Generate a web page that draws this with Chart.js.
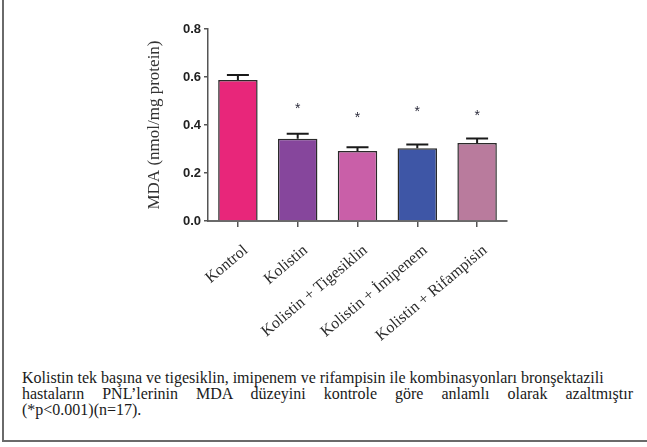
<!DOCTYPE html>
<html>
<head>
<meta charset="utf-8">
<script src="https://cdn.jsdelivr.net/npm/chart.js@4/dist/chart.umd.min.js"></script>
<style>
  html, body { margin: 0; padding: 0; background: #fff; }
  body { width: 647px; height: 447px; position: relative; overflow: hidden; }
  #frame { position: absolute; left: 2px; top: 0; width: 645px; height: 442px;
           border-left: 2px solid #6a6a6a; border-bottom: 2px solid #6a6a6a; box-sizing: border-box; }
  #wrap { position: absolute; left: 0; top: 0; width: 647px; height: 360px; }
  #caption { position: absolute; left: 22px; top: 370px; width: 611px;
             font-family: "Liberation Serif", "Times New Roman", serif; font-size: 16px;
             line-height: 16px; color: #1a1a1a; }
  #caption div { white-space: nowrap; }
  #caption .j { text-align: justify; text-align-last: justify; white-space: normal; }
</style>
</head>
<body>
<div id="frame"></div>
<div id="wrap"><canvas id="c" width="647" height="360"></canvas></div>
<div id="caption">
  <div>Kolistin tek başına ve tigesiklin, imipenem ve rifampisin ile kombinasyonları bronşektazili</div>
  <div class="j">hastaların PNL’lerinin MDA düzeyini kontrole göre anlamlı olarak azaltmıştır</div>
  <div>(*p&lt;0.001)(n=17).</div>
</div>
<script>
const categories = ["Kontrol", "Kolistin", "Kolistin + Tigesiklin", "Kolistin + İmipenem", "Kolistin + Rifampisin"];
const means = [0.587, 0.343, 0.292, 0.303, 0.325];
const sems = [0.021, 0.021, 0.015, 0.016, 0.019];
const starLevels = [null, 0.48, 0.44, 0.465, 0.45];
const barColors = ["#e8267a", "#86469c", "#c95fa8", "#3e56a6", "#b97b9d"];
const yTicks = [0, 0.2, 0.4, 0.6, 0.8];

const errorAndStars = {
  id: 'errorAndStars',
  afterDatasetsDraw(chart) {
    const ctx = chart.ctx;
    const x = chart.scales.x, y = chart.scales.y;
    ctx.save();
    ctx.strokeStyle = '#1a1a1a';
    ctx.lineWidth = 2;
    means.forEach((m, i) => {
      const cx = x.getPixelForValue(i);
      const yTop = y.getPixelForValue(m);
      const yErr = y.getPixelForValue(m + sems[i]);
      ctx.beginPath();
      ctx.moveTo(cx, yTop);
      ctx.lineTo(cx, yErr);
      ctx.moveTo(cx - 11, yErr);
      ctx.lineTo(cx + 11, yErr);
      ctx.stroke();
    });
    ctx.fillStyle = '#2a2a3a';
    ctx.font = '14px "Liberation Sans", Arial, sans-serif';
    ctx.textAlign = 'center';
    ctx.textBaseline = 'middle';
    starLevels.forEach((s, i) => {
      if (s == null) return;
      ctx.fillText('*', x.getPixelForValue(i), y.getPixelForValue(s) + 3);
    });
    ctx.restore();
  }
};

new Chart(document.getElementById('c'), {
  type: 'bar',
  data: {
    labels: categories,
    datasets: [{
      data: means,
      backgroundColor: barColors,
      borderColor: '#2a2a2a',
      borderWidth: 1.5,
      categoryPercentage: 1,
      barPercentage: 0.66
    }]
  },
  options: {
    responsive: false,
    animation: false,
    events: [],
    layout: { padding: { left: 144, right: 140, top: 29, bottom: 0 } },
    plugins: { legend: { display: false }, tooltip: { enabled: false } },
    scales: {
      x: {
        offset: true,
        afterFit(s) { s.height = 139; },
        border: { color: '#6a6a6a', width: 2 },
        grid: { display: true, drawOnChartArea: false, drawTicks: true, tickLength: 6, offset: false, color: '#555', lineWidth: 1.5 },
        ticks: {
          minRotation: 40, maxRotation: 40, padding: 14, labelOffset: 8, autoSkip: false,
          color: '#2a2a2a',
          font: { family: '"Liberation Serif", "Times New Roman", serif', size: 16 }
        }
      },
      y: {
        min: 0, max: 0.8,
        afterFit(s) { s.width = 64; },
        afterBuildTicks(s) { s.ticks = yTicks.map(v => ({ value: v })); },
        border: { color: '#555', width: 1.5 },
        grid: { display: true, drawOnChartArea: false, drawTicks: true, tickLength: 4, color: '#555', lineWidth: 1.5 },
        ticks: {
          padding: 3, color: '#222',
          font: { family: '"Liberation Sans", Arial, sans-serif', size: 13, weight: 'bold' },
          callback: v => Number(v).toFixed(1)
        },
        title: {
          display: true, text: 'MDA (nmol/mg protein)', color: '#333', padding: 0,
          font: { family: '"Liberation Serif", "Times New Roman", serif', size: 17 }
        }
      }
    }
  },
  plugins: [errorAndStars]
});
</script>
</body>
</html>
